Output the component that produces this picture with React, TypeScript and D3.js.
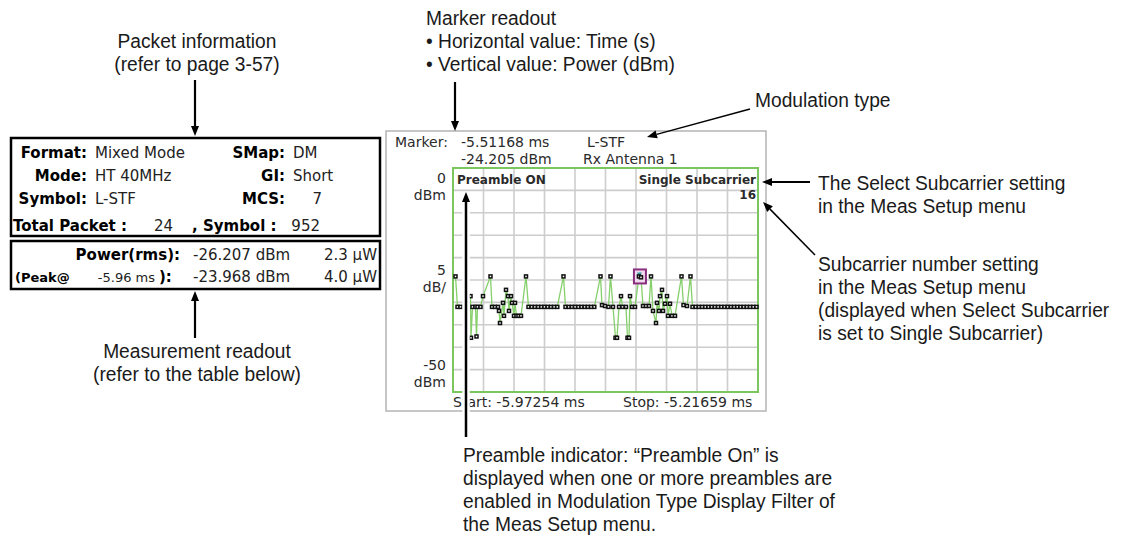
import * as React from 'react';
import * as d3 from 'd3';

// sweep limits
const START = -5.97254;
const STOP = -5.21659;
const TOP_DBM = 0;
const BOTTOM_DBM = -50;

// symbol power of subcarrier 16 over time (ms, dBm)
const traceTime = [
    -5.96634, -5.96139, -5.95395,
    -5.92917, -5.92793, -5.92421, -5.91677, -5.9143, -5.91182, -5.90438, -5.89818,
    -5.8796, -5.87588, -5.86844, -5.86101,
    -5.85853, -5.85605, -5.84861, -5.84614, -5.84118, -5.83622, -5.83374, -5.82879, -5.82631,
    -5.82135, -5.81887, -5.81516, -5.8102, -5.804,
    -5.79161, -5.78541, -5.77748, -5.76955, -5.76162, -5.75369, -5.74576, -5.73783, -5.72989,
    -5.72196, -5.71403,
    -5.69867, -5.69371, -5.68578, -5.67785, -5.66991, -5.66198, -5.65405, -5.64612, -5.63819,
    -5.63026, -5.62233,
    -5.60696, -5.60324, -5.59581, -5.58713, -5.58218, -5.57598, -5.56978, -5.56607, -5.56111,
    -5.55615, -5.55243, -5.54376, -5.54004, -5.53632, -5.53385, -5.52889, -5.52145,
    -5.51168, -5.50658, -5.50162, -5.49419, -5.48675, -5.4818,
    -5.47684, -5.4694, -5.46693, -5.46197, -5.45949, -5.45453, -5.45205, -5.4471, -5.44214,
    -5.43966, -5.43471, -5.42975, -5.42231,
    -5.4062, -5.40125, -5.39257, -5.3839, -5.37894,
    -5.37101, -5.36308, -5.35515, -5.34721, -5.33928, -5.33135, -5.32342, -5.31549, -5.30756,
    -5.29963, -5.2917, -5.28377, -5.27584, -5.2679, -5.25997, -5.25204, -5.24411, -5.23618,
    -5.22825, -5.22032
];
const tracePower = [
    -24.2, -31, -31,
    -28.6, -37.9, -31, -31, -37.6, -31, -31, -28.6,
    -24.2, -31, -31, -31,
    -31.9, -34.6, -30.1, -33, -27.2, -28.6, -31.9, -28.6, -30.1,
    -33, -30.1, -33, -33, -33,
    -24.2, -31, -31, -31, -31, -31, -31, -31, -31,
    -31, -31,
    -24.2, -31, -31, -31, -31, -31, -31, -31, -31,
    -31, -31,
    -24.2, -30.6, -30.8, -31, -24.2, -31, -37.9, -37.9, -31,
    -28.6, -31, -31, -37.9, -37.9, -28.6, -31, -31,
    -24.205, -24.4, -30.8, -30.8, -30.8, -24.2,
    -31.9, -34.6, -30.1, -31.9, -28.6, -27.2, -31.9, -30.3, -28.6,
    -33, -30.3, -33, -33,
    -24.2, -30.6, -30.8, -24.2, -31,
    -31, -31, -31, -31, -31, -31, -31, -31, -31,
    -31, -31, -31, -31, -31, -31, -31, -31, -31,
    -31, -31
];

const markerTime = -5.51168;
const markerPower = -24.205;

const packetRows = [
    { label: 'Format:', value: 'Mixed Mode', label2: 'SMap:', value2: 'DM' },
    { label: 'Mode:', value: 'HT 40MHz', label2: 'GI:', value2: 'Short' },
    { label: 'Symbol:', value: 'L-STF', label2: 'MCS:', value2: '7' }
];
const totalPacket = '24';
const totalSymbol = '952';
const powerRms = ['-26.207 dBm', '2.3 µW'];
const peakTime = '-5.96 ms';
const powerPeak = ['-23.968 dBm', '4.0 µW'];

const NOTE_FONT = "'Liberation Sans', Arial, Helvetica, sans-serif";
const SCREEN_FONT = "'DejaVu Sans', Verdana, sans-serif";

function Note(props: { x: number; y: number; text: string; anchor?: string }) {
    return (
        <text
            transform={'translate(' + props.x + ',' + props.y + ') scale(0.96,1)'}
            textAnchor={props.anchor || 'start'}
            dominantBaseline="central"
            fontFamily={NOTE_FONT}
            fontSize={20}
            fill="#1a1a1a">
            {props.text}
        </text>
    );
}

function Arrow(props: { x1: number; y1: number; x2: number; y2: number; w?: number; halo?: boolean }) {
    const { x1, y1, x2, y2 } = props;
    const w = props.w || 2;
    const ang = Math.atan2(y2 - y1, x2 - x1);
    const len = 10, half = 4;
    const bx = x2 - Math.cos(ang) * len, by = y2 - Math.sin(ang) * len;
    const px = -Math.sin(ang) * half, py = Math.cos(ang) * half;
    const head = [[x2, y2], [bx + px, by + py], [bx - px, by - py]].map(p => p.join(',')).join(' ');
    return (
        <g>
            {props.halo && <line x1={x1} y1={y1} x2={bx} y2={by} stroke="#fff" strokeWidth={w + 5} />}
            <line x1={x1} y1={y1} x2={bx} y2={by} stroke="#000" strokeWidth={w} />
            <polygon points={head} fill="#000" />
        </g>
    );
}

export default function App() {
    const left = 453, right = 758, top = 168, bottom = 392;
    const x = d3.scaleLinear().domain([START, STOP]).range([left, right]);
    const y = d3.scaleLinear().domain([TOP_DBM, BOTTOM_DBM]).range([top, bottom]);

    const xDivs = d3.range(11).map(i => START + i * (STOP - START) / 10);
    const yDivs = y.ticks(10);

    const pts: Array<[number, number]> = traceTime.map((t, i) => [t, tracePower[i]]);
    const line = d3.line<[number, number]>().x(d => x(d[0])).y(d => y(d[1]));

    const mx = x(markerTime), my = y(markerPower);

    const boxText = (txt: string, tx: number, ty: number, bold: boolean, anchor = 'start', size = 15) => (
        <text x={tx} y={ty} textAnchor={anchor} dominantBaseline="central" fontFamily={SCREEN_FONT}
            fontSize={size} fontWeight={bold ? 'bold' : 'normal'} fill={bold ? '#000' : '#222'}>{txt}</text>
    );

    const scr = (txt: string, tx: number, ty: number, anchor = 'start', bold = false, size = 14) => (
        <text x={tx} y={ty} textAnchor={anchor} dominantBaseline="central" fontFamily={SCREEN_FONT}
            fontSize={size} fontWeight={bold ? 'bold' : 'normal'} fill="#2a2a2a">{txt}</text>
    );

    return (
        <svg width={1132} height={542} style={{ position: 'absolute', left: 0, top: 0, background: '#fff' }}>
            {/* packet information block */}
            <rect x={11} y={138} width={369} height={98} fill="none" stroke="#000" strokeWidth={2.5} />
            {packetRows.map((r, i) => (
                <g key={r.label}>
                    {boxText(r.label, 87, 153 + i * 23, true, 'end')}
                    {boxText(r.value, 95, 153 + i * 23, false)}
                    {boxText(r.label2, 285, 153 + i * 23, true, 'end')}
                    {boxText(r.value2, r.value2.length === 1 ? 322 : 293, 153 + i * 23, false, r.value2.length === 1 ? 'end' : 'start')}
                </g>
            ))}
            {boxText('Total Packet :', 13, 226, true)}
            {boxText(totalPacket, 173, 226, false, 'end')}
            {boxText(', Symbol :', 192, 226, true)}
            {boxText(totalSymbol, 320, 226, false, 'end')}

            <rect x={11} y={241} width={369} height={48} fill="none" stroke="#000" strokeWidth={2.5} />
            {boxText('Power(rms):', 180, 255, true, 'end')}
            {boxText(powerRms[0], 193, 255, false)}
            {boxText(powerRms[1], 377, 255, false, 'end')}
            {boxText('(Peak@', 15, 277, true, 'start', 13)}
            {boxText(peakTime, 155, 277, false, 'end', 13)}
            {boxText('):', 159, 277, true)}
            {boxText(powerPeak[0], 193, 277, false)}
            {boxText(powerPeak[1], 377, 277, false, 'end')}

            {/* instrument screen */}
            <rect x={386} y={131} width={380} height={280} fill="#fff" stroke="#b4b4b4" strokeWidth={1.5} />
            {scr('Marker:', 395, 142)}
            {scr('-5.51168 ms', 461, 142)}
            {scr('-24.205 dBm', 461, 159)}
            {scr('L-STF', 587, 142)}
            {scr('Rx Antenna 1', 583, 159)}

            {xDivs.slice(1, 10).map(t => (
                <line key={'gx' + t} x1={x(t)} x2={x(t)} y1={top} y2={bottom} stroke="#cdcdcd" strokeWidth={1.6} />
            ))}
            {yDivs.slice(1, 10).map(v => (
                <line key={'gy' + v} x1={left} x2={right} y1={y(v)} y2={y(v)} stroke="#cdcdcd" strokeWidth={1.6} />
            ))}
            <rect x={left} y={top} width={right - left} height={bottom - top} fill="none" stroke="#7cc65e" strokeWidth={2} />

            {scr('0', 446, 178, 'end')}
            {scr('dBm', 446, 195, 'end')}
            {scr('5', 446, 270, 'end')}
            {scr('dB/', 446, 287, 'end')}
            {scr('-50', 446, 365, 'end')}
            {scr('dBm', 446, 382, 'end')}

            {scr('Preamble ON', 457, 180, 'start', true, 12)}
            {scr('Single Subcarrier', 756, 180, 'end', true, 12)}
            {scr('16', 756, 195, 'end', true, 12)}

            <path d={line(pts) || ''} fill="none" stroke="#86d06c" strokeWidth={1.3} />
            <rect x={mx - 5} y={my - 7} width={12} height={14} fill="#f1d9ee" stroke="#8a2f7e" strokeWidth={2} />
            <polygon points={`${mx - 2},${my - 4} ${mx + 3},${my - 4} ${mx + 0.5},${my}`} fill="#2f9da3" />
            {pts.map((p, i) => (
                <g key={'p' + i}>
                    <rect x={x(p[0]) - 2.25} y={y(p[1]) - 2.25} width={4.5} height={4.5} fill="#111" />
                    <rect x={x(p[0]) - 0.75} y={y(p[1]) - 0.75} width={1.5} height={1.5} fill="#fff" />
                </g>
            ))}

            {scr('Start: -5.97254 ms', 453, 402)}
            {scr('Stop: -5.21659 ms', 623, 402)}

            {/* callouts */}
            <Note x={197} y={41} text="Packet information" anchor="middle" />
            <Note x={197} y={64} text="(refer to page 3-57)" anchor="middle" />
            <Arrow x1={195} y1={80} x2={195} y2={136} w={2.2} />

            <Note x={426} y={18} text="Marker readout" />
            <Note x={426} y={41} text="• Horizontal value: Time (s)" />
            <Note x={426} y={64} text="• Vertical value: Power (dBm)" />
            <Arrow x1={455} y1={82} x2={455} y2={131} w={2.2} />

            <Note x={755} y={100} text="Modulation type" />
            <Arrow x1={750} y1={109} x2={647} y2={137} w={1.5} />

            <Note x={818} y={183} text="The Select Subcarrier setting" />
            <Note x={818} y={206} text="in the Meas Setup menu" />
            <Arrow x1={810} y1={182} x2={762} y2={182} w={2} />

            <Note x={818} y={264} text="Subcarrier number setting" />
            <Note x={818} y={287} text="in the Meas Setup menu" />
            <Note x={818} y={310} text="(displayed when Select Subcarrier" />
            <Note x={818} y={333} text="is set to Single Subcarrier)" />
            <Arrow x1={815} y1={255} x2={763} y2={202} w={1.5} />

            <Arrow x1={195} y1={338} x2={195} y2={291} w={2.2} />
            <Note x={197} y={351} text="Measurement readout" anchor="middle" />
            <Note x={197} y={374} text="(refer to the table below)" anchor="middle" />

            <Arrow x1={466} y1={437} x2={466} y2={192} w={2.5} halo={true} />
            <Note x={463} y={455} text="Preamble indicator: “Preamble On” is" />
            <Note x={463} y={478} text="displayed when one or more preambles are" />
            <Note x={463} y={501} text="enabled in Modulation Type Display Filter of" />
            <Note x={463} y={524} text="the Meas Setup menu." />
        </svg>
    );
}
